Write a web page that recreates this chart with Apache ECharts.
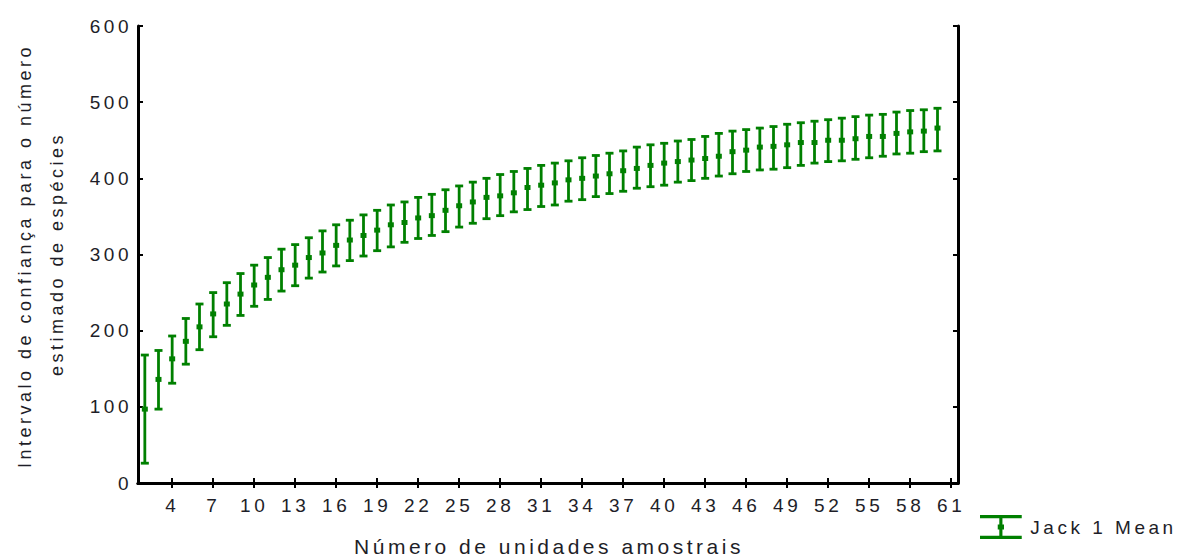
<!DOCTYPE html>
<html>
<head>
<meta charset="utf-8">
<script src="https://cdn.jsdelivr.net/npm/echarts@6/dist/echarts.min.js"></script>
<style>
  html, body { margin: 0; padding: 0; background: #fff; }
  #chart { width: 1181px; height: 560px; }
  #chart text { letter-spacing: 3.5px; }
</style>
</head>
<body>
<div id="chart"></div>
<script>
const samples = [2,3,4,5,6,7,8,9,10,11,12,13,14,15,16,17,18,19,20,21,22,23,24,25,26,27,28,29,30,31,32,33,34,35,36,37,38,39,40,41,42,43,44,45,46,47,48,49,50,51,52,53,54,55,56,57,58,59,60];
const meanValues = [97,136,163,186,205,222,235,248,260,270,280,286,296,302,312,319,325,332,339,342,348,351,358,364,369,375,377,381,388,391,394,398,400,403,406,410,413,417,420,422,424,426,429,435,437,441,442,444,447,447,450,450,452,455,455,459,461,462,466];
const upperValues = [168,174,193,216,235,250,263,275,286,296,307,313,322,331,339,345,352,358,365,369,375,379,385,390,395,400,405,409,413,417,420,423,427,430,433,436,441,444,446,449,451,455,459,462,464,466,468,471,473,475,477,479,481,483,484,487,489,490,492];
const lowerValues = [26,97,131,156,175,192,207,220,232,241,252,259,269,277,285,292,298,305,310,316,321,325,330,336,341,347,351,356,359,363,365,370,372,376,380,383,387,389,391,395,397,400,403,406,409,411,412,414,417,420,422,423,425,427,429,432,433,435,436];
const xTickValues = [4,7,10,13,16,19,22,25,28,31,34,37,40,43,46,49,52,55,58,61];
const yTickValues = [0,100,200,300,400,500,600];
const seriesName = 'Jack 1 Mean';
const xTitle = 'Número de unidades amostrais';
const yTitle1 = 'Intervalo de confiança para o número';
const yTitle2 = 'estimado de espécies';

const GREEN = '#008000';
const TEXT = '#1e1e28';
const FONT = '"Liberation Sans", Arial, sans-serif';

const data = samples.map((s, i) => [s, lowerValues[i], upperValues[i], meanValues[i]]);

function renderItem(params, api) {
  const x = api.value(0);
  const lo = api.coord([x, api.value(1)]);
  const hi = api.coord([x, api.value(2)]);
  const mid = api.coord([x, api.value(3)]);
  const cap = 4;
  const lineStyle = { stroke: GREEN, lineWidth: 2.8 };
  return {
    type: 'group',
    children: [
      { type: 'line', shape: { x1: lo[0], y1: lo[1], x2: hi[0], y2: hi[1] }, style: lineStyle },
      { type: 'line', shape: { x1: hi[0] - cap, y1: hi[1], x2: hi[0] + cap, y2: hi[1] }, style: lineStyle },
      { type: 'line', shape: { x1: lo[0] - cap, y1: lo[1], x2: lo[0] + cap, y2: lo[1] }, style: lineStyle },
      { type: 'rect', shape: { x: mid[0] - 3, y: mid[1] - 2.5, width: 6, height: 5 }, style: { fill: GREEN } }
    ]
  };
}

const chart = echarts.init(document.getElementById('chart'), null, { renderer: 'svg' });
const axisLine = { show: true, lineStyle: { color: '#000', width: 3 } };
const tickStyle = { show: true, inside: true, length: 5, lineStyle: { color: '#000', width: 2 } };

chart.setOption({
  animation: false,
  backgroundColor: '#fff',
  grid: { left: 138, right: 223, top: 26, bottom: 77, show: false },
  xAxis: [
    {
      type: 'value', min: 1.5, max: 61.5, position: 'bottom',
      axisLine: axisLine,
      axisTick: Object.assign({}, tickStyle, { customValues: xTickValues }),
      axisLabel: { show: true, customValues: xTickValues, color: TEXT, fontSize: 19, fontFamily: FONT, margin: 13 },
      splitLine: { show: false }
    },
    {
      type: 'value', min: 1.5, max: 61.5, position: 'top',
      axisLine: axisLine,
      axisTick: Object.assign({}, tickStyle, { customValues: xTickValues }),
      axisLabel: { show: false },
      splitLine: { show: false }
    }
  ],
  yAxis: [
    {
      type: 'value', min: 0, max: 600, interval: 100, position: 'left',
      axisLine: axisLine,
      axisTick: tickStyle,
      axisLabel: { color: TEXT, fontSize: 19, fontFamily: FONT, margin: 6 },
      splitLine: { show: false }
    },
    {
      type: 'value', min: 0, max: 600, interval: 100, position: 'right',
      axisLine: axisLine,
      axisTick: tickStyle,
      axisLabel: { show: false },
      splitLine: { show: false }
    }
  ],
  legend: {
    data: [{ name: seriesName, icon: 'path://M0,0H40V3H21.5V9H23V14H21.5V20H40V23H0V20H18.5V14H17V9H18.5V3H0Z' }],
    left: 975, top: 510,
    itemWidth: 45, itemHeight: 24, itemGap: 10,
    textStyle: { color: TEXT, fontSize: 19, fontFamily: FONT, padding: [0, 0, 0, 2] },
    selectedMode: false
  },
  graphic: [
    { type: 'text', x: 25, y: 256, rotation: Math.PI / 2,
      style: { text: yTitle1, fill: TEXT, font: '18px ' + FONT, textAlign: 'center', textVerticalAlign: 'middle' } },
    { type: 'text', x: 57, y: 254, rotation: Math.PI / 2,
      style: { text: yTitle2, fill: TEXT, font: '18px ' + FONT, textAlign: 'center', textVerticalAlign: 'middle' } },
    { type: 'text', x: 549, y: 546,
      style: { text: xTitle, fill: TEXT, font: '21px ' + FONT, textAlign: 'center', textVerticalAlign: 'middle' } }
  ],
  series: [{
    name: seriesName,
    type: 'custom',
    renderItem: renderItem,
    itemStyle: { color: GREEN },
    encode: { x: 0, y: [1, 2, 3] },
    data: data
  }]
});
</script>
</body>
</html>
